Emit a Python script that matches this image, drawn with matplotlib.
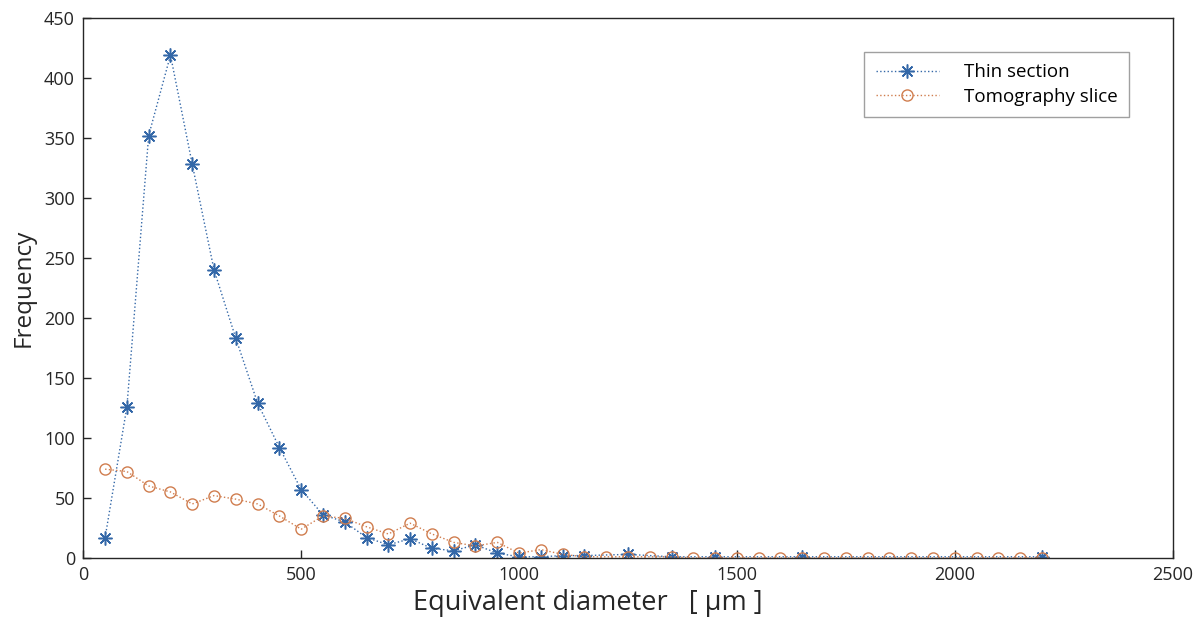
import matplotlib
matplotlib.use("Agg")
import matplotlib.pyplot as plt

plt.rcParams['font.family'] = ['Open Sans', 'DejaVu Sans']

# Thin section: bins with non-zero counts only
thin_x = [50, 100, 150, 200, 250, 300, 350, 400, 450, 500,
          550, 600, 650, 700, 750, 800, 850, 900, 950, 1000,
          1050, 1100, 1150, 1250, 1350, 1450, 1650, 2200]
thin_y = [17, 126, 352, 419, 328, 240, 183, 129, 92, 57,
          36, 30, 17, 11, 16, 8, 6, 11, 4, 1,
          1, 2, 2, 3, 1, 1, 1, 1]

# Tomography slice: every bin 50..2200
tomo_x = list(range(50, 2201, 50))
tomo_y = [74, 72, 60, 55, 45, 52, 49, 45, 35, 24,
          35, 33, 26, 20, 29, 20, 13, 10, 13, 4,
          7, 3, 1, 1, 1, 1, 1, 0, 0, 0,
          0, 0, 0, 0, 0, 0, 0, 0, 0, 0,
          0, 0, 0, 0]

xticks = [0, 500, 1000, 1500, 2000, 2500]
yticks = [0, 50, 100, 150, 200, 250, 300, 350, 400, 450]

blue = '#3468a8'
orange = '#d07d4e'

fig = plt.figure(figsize=(11.99, 6.28), dpi=100)
ax = fig.add_axes([0.0695, 0.1115, 0.9085, 0.86])

# matlab-like asterisk marker
ax.plot(thin_x, thin_y, linestyle=':', linewidth=1.0, color=blue,
        marker=(8, 2, 0), markersize=10, markeredgewidth=1.1, label='Thin section')
ax.plot(tomo_x, tomo_y, linestyle=':', linewidth=1.0, color=orange,
        marker='o', markersize=8, markerfacecolor='none', markeredgewidth=1.0,
        label='Tomography slice')

ax.set_xlim(0, 2500)
ax.set_ylim(0, 450)
ax.set_xticks(xticks)
ax.set_yticks(yticks)
ax.tick_params(direction='in', length=6, width=1, labelsize=13, colors='#262626', pad=6)
for s in ax.spines.values():
    s.set_color('#262626')
    s.set_linewidth(1.0)

ax.set_xlabel('Equivalent diameter   [ µm ]', fontsize=19.5, color='#262626')
ax.xaxis.set_label_coords(0.463, -0.058)
ax.set_ylabel('Frequency', fontsize=17.5, color='#262626', labelpad=6)

leg = ax.legend(loc='upper right', bbox_to_anchor=(0.9597, 0.937), fontsize=13.5,
                frameon=True, fancybox=False, edgecolor='#888888',
                handlelength=3.4, borderpad=0.6, labelspacing=0.35, handletextpad=1.3,
                borderaxespad=0)
leg.get_frame().set_linewidth(1.0)

fig.savefig('out.png', dpi=100)
